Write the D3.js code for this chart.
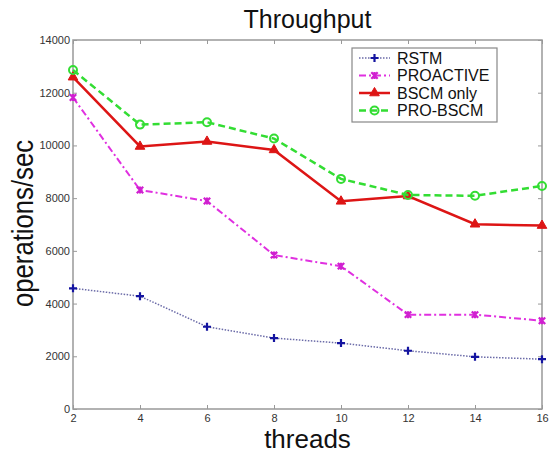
<!DOCTYPE html>
<html>
<head>
<meta charset="utf-8">
<script src="https://cdn.jsdelivr.net/npm/d3@7"></script>
<style>
  body { margin: 0; background: #fff; }
  svg { display: block; font-family: Arial, "Liberation Sans", sans-serif; }
</style>
</head>
<body>
<svg id="chart" width="551" height="453"></svg>
<script>
// Throughput per thread count
const threads = [2, 4, 6, 8, 10, 12, 14, 16];
const rstm = [4580, 4280, 3120, 2690, 2500, 2210, 1980, 1890];
const proactive = [11820, 8310, 7890, 5840, 5420, 3580, 3580, 3350];
const bscmOnly = [12590, 9960, 10150, 9830, 7880, 8080, 7010, 6960];
const proBscm = [12860, 10790, 10880, 10260, 8730, 8120, 8090, 8460];
const yTicks = [0, 2000, 4000, 6000, 8000, 10000, 12000, 14000];

const series = [
  { name: 'RSTM', values: rstm, color: '#6b6ba8', mark: '#1414a0', dash: '1.5,1.5', width: 1.5, shape: 'plus' },
  { name: 'PROACTIVE', values: proactive, color: '#e030e0', mark: '#d020d0', dash: '7,3,2,3', width: 2, shape: 'cross' },
  { name: 'BSCM only', values: bscmOnly, color: '#dd1515', mark: '#dd1515', dash: null, width: 2.5, shape: 'triangle' },
  { name: 'PRO-BSCM', values: proBscm, color: '#33dd33', mark: '#33dd33', dash: '7,4', width: 2.5, shape: 'circle' },
];

const W = 551, H = 453;
const margin = { top: 40, right: 9, bottom: 44, left: 73 };
const svg = d3.select('#chart');

const x = d3.scaleLinear().domain([2, 16]).range([margin.left, W - margin.right]);
const y = d3.scaleLinear().domain([0, 14000]).range([H - margin.bottom, margin.top]);

const axisColor = '#999';
const tickLen = 4;

// box around plot
svg.append('rect')
  .attr('x', x(2)).attr('y', y(14000))
  .attr('width', x(16) - x(2)).attr('height', y(0) - y(14000))
  .attr('fill', 'none').attr('stroke', axisColor).attr('stroke-width', 1.5);

// matlab style inward ticks on all sides
const xAxis = svg.append('g').attr('transform', `translate(0,${y(0)})`)
  .call(d3.axisBottom(x).tickValues(threads).tickSize(-tickLen).tickPadding(6));
const xTop = svg.append('g').attr('transform', `translate(0,${y(14000)})`)
  .call(d3.axisTop(x).tickValues(threads).tickSize(-tickLen).tickFormat(''));
const yAxis = svg.append('g').attr('transform', `translate(${x(2)},0)`)
  .call(d3.axisLeft(y).tickValues(yTicks).tickSize(-tickLen).tickPadding(3).tickFormat(d3.format('d')));
const yRight = svg.append('g').attr('transform', `translate(${x(16)},0)`)
  .call(d3.axisRight(y).tickValues(yTicks).tickSize(-tickLen).tickFormat(''));

for (const g of [xAxis, xTop, yAxis, yRight]) {
  g.select('.domain').remove();
  g.selectAll('.tick line').attr('stroke', axisColor).attr('stroke-width', 1);
  g.selectAll('.tick text').attr('fill', '#333').style('font-size', '11px');
}
xAxis.selectAll('.tick text').attr('dy', '0.6em');

// lines
const line = d3.line().x((d, i) => x(threads[i])).y(d => y(d));

function drawMarker(g, shape, color) {
  if (shape === 'plus') {
    g.append('path').attr('d', 'M-4,0H4M0,-4V4').attr('stroke', color).attr('stroke-width', 2.2);
  } else if (shape === 'cross') {
    g.append('path').attr('d', 'M-3.2,-3.2L3.2,3.2M-3.2,3.2L3.2,-3.2M0,-3.5V3.5')
      .attr('stroke', color).attr('stroke-width', 2.2);
  } else if (shape === 'triangle') {
    g.append('path').attr('d', d3.symbol(d3.symbolTriangle, 40)()).attr('fill', color).attr('stroke', color);
  } else {
    g.append('circle').attr('r', 4).attr('fill', 'none').attr('stroke', color).attr('stroke-width', 2);
  }
}

for (const s of series) {
  svg.append('path')
    .attr('d', line(s.values))
    .attr('fill', 'none')
    .attr('stroke', s.color)
    .attr('stroke-width', s.width)
    .attr('stroke-dasharray', s.dash);
  s.values.forEach((v, i) => {
    const g = svg.append('g').attr('transform', `translate(${x(threads[i])},${y(v)})`);
    drawMarker(g, s.shape, s.mark);
  });
}

// legend
const legend = svg.append('g');
legend.append('rect')
  .attr('x', 352).attr('y', 48).attr('width', 145).attr('height', 74)
  .attr('fill', '#fff').attr('stroke', '#888').attr('stroke-width', 1.2);
series.forEach((s, i) => {
  const cy = 58 + i * 17.5;
  legend.append('line')
    .attr('x1', 359).attr('x2', 390).attr('y1', cy).attr('y2', cy)
    .attr('stroke', s.color).attr('stroke-width', s.width)
    .attr('stroke-dasharray', s.dash);
  drawMarker(legend.append('g').attr('transform', `translate(374.5,${cy})`), s.shape, s.mark);
  legend.append('text')
    .attr('x', 397).attr('y', cy).attr('dy', '0.36em')
    .style('font-size', '16px').attr('fill', '#111')
    .text(s.name);
});

// title and axis labels
svg.append('text')
  .attr('x', x(9)).attr('y', 28).attr('text-anchor', 'middle')
  .style('font-size', '25px').attr('fill', '#111')
  .text('Throughput');

svg.append('text')
  .attr('x', x(9)).attr('y', 448).attr('text-anchor', 'middle')
  .style('font-size', '26px').attr('fill', '#111')
  .text('threads');

svg.append('text')
  .attr('transform', `translate(33,${(140 + 307) / 2}) rotate(-90)`)
  .attr('text-anchor', 'middle')
  .attr('textLength', 167).attr('lengthAdjust', 'spacingAndGlyphs')
  .style('font-size', '30px').attr('fill', '#111')
  .text('operations/sec');
</script>
</body>
</html>
